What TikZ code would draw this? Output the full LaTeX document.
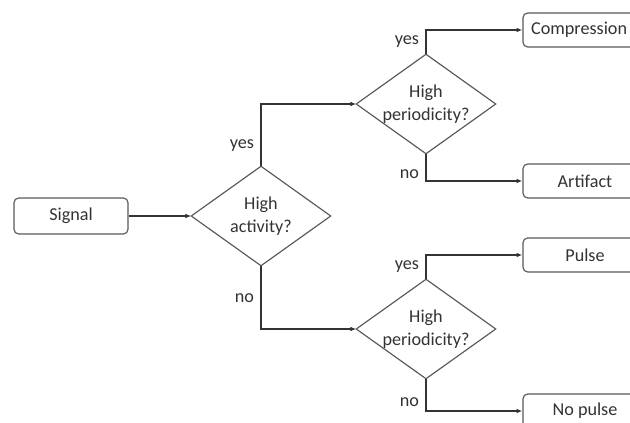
\documentclass[tikz,border=0pt]{standalone}
\usepackage{fontspec}
\setmainfont{Carlito}
\usetikzlibrary{arrows.meta}
\definecolor{edgegray}{gray}{0.35}
\definecolor{inkgray}{gray}{0.2}
\tikzset{
    rounded-box/.style = {draw=edgegray, fill=white, line width=1pt, rectangle, rounded corners=4pt, minimum width=3.72cm, minimum height=1.02cm, inner sep=0pt},
    decision-box/.style = {rectangle, minimum width=4.17cm, minimum height=2.97cm, inner sep=0pt, align=center},
    decision-edge/.style = {draw=edgegray, line width=1pt, line join=miter},
    flow-line/.style = {draw=inkgray, line width=1.3pt, -{Latex[length=5pt,width=4pt]}},
}

\begin{document}
\begin{tikzpicture}[x=0.03cm, y=-0.03cm, text=inkgray, font=\fontsize{15.5}{20}\selectfont]
\useasboundingbox (0,0) rectangle (630,423);
\clip (0,0) rectangle (630,423);
\node [rounded-box, minimum width=3.42cm, minimum height=1.08cm] (signal) at (71,216) {Signal};
\node [decision-box] (activity) at (261,216) {High\\activity?};
\node [decision-box] (per-up) at (426,104) {High\\periodicity?};
\node [decision-box] (per-down) at (426,329) {High\\periodicity?};
\foreach \d in {activity, per-up, per-down}
    \draw [decision-edge] (\d.north) -- (\d.east) -- (\d.south) -- (\d.west) -- cycle;
\node [rounded-box] (compression) at (585,30) {\hspace*{-10pt}Compression};
\node [rounded-box] (artifact) at (585,181) {Artifact};
\node [rounded-box] (pulse) at (585,255) {Pulse};
\node [rounded-box] (no-pulse) at (585,411) {No pulse};

\draw [flow-line] (signal) -- (activity.west);
\draw [flow-line] (activity.north) |- node[pos=0.17, left=2pt] {yes} (per-up.west);
\draw [flow-line] (activity.south) |- node[pos=0.26, left=2pt] {no} (per-down.west);
\draw [flow-line] (per-up.north) |- node[pos=0.27, left=2pt] {yes} (compression.west);
\draw [flow-line] (per-up.south) |- node[pos=0.37, left=2pt] {no} (artifact.west);
\draw [flow-line] (per-down.north) |- node[pos=0.27, left=2pt] {yes} (pulse.west);
\draw [flow-line] (per-down.south) |- node[pos=0.37, left=2pt] {no} (no-pulse.west);
\end{tikzpicture}
\end{document}
